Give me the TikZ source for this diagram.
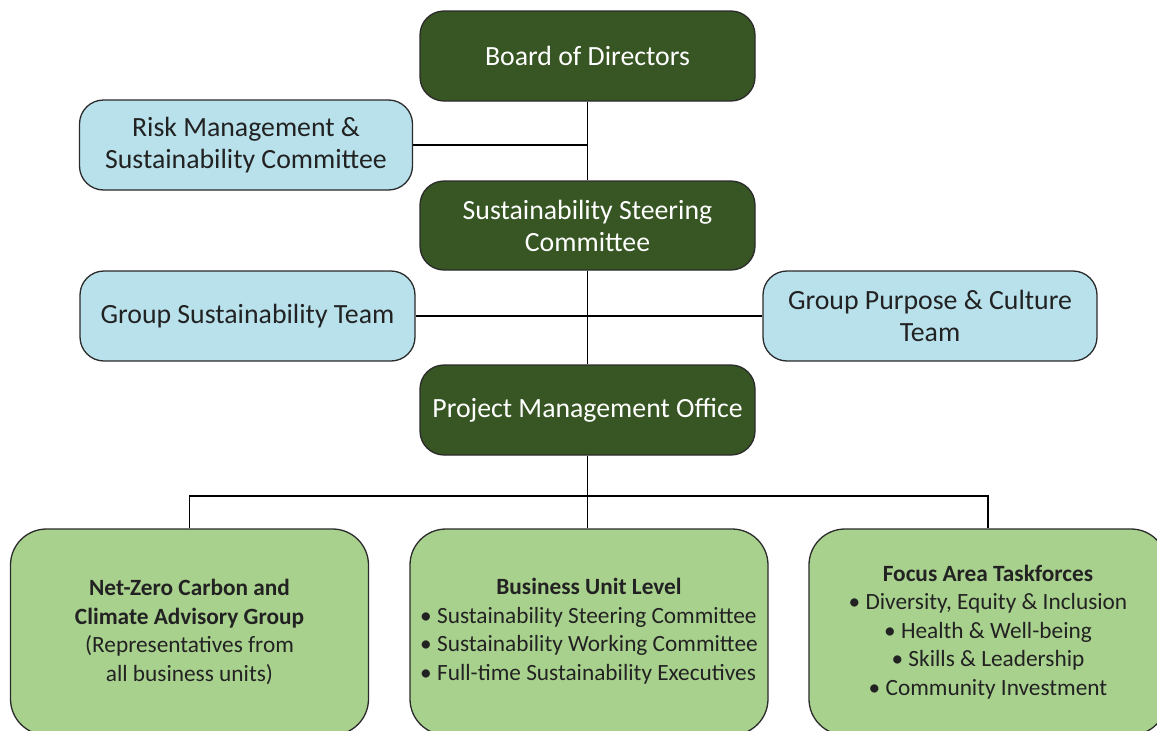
\documentclass[tikz,border=0pt]{standalone}
\usepackage{fontspec}
\setmainfont{Carlito}
\definecolor{darkg}{HTML}{375623}
\definecolor{lightb}{HTML}{B8E1EC}
\definecolor{lightg}{HTML}{A9D18E}
\definecolor{edgec}{HTML}{2B2B2B}
\definecolor{txt}{HTML}{222222}
\tikzset{
  topbox/.style={draw=edgec, line width=1.3pt, rounded corners=24pt, align=center, inner sep=0pt,
     font=\fontsize{27.8}{32}\selectfont},
  darkbox/.style={topbox, fill=darkg, text=white, minimum width=335pt, minimum height=90pt},
  bluebox/.style={topbox, fill=lightb, text=txt, minimum height=90pt},
  greenbox/.style={draw=edgec, line width=1.3pt, rounded corners=36pt, fill=lightg, text=txt,
     minimum width=358pt, minimum height=206pt, inner sep=0pt, align=center,
     font=\fontsize{23.3}{28.5}\selectfont},
  conn/.style={draw=black, line width=1.5pt}
}
\begin{document}
\begin{tikzpicture}[x=1pt,y=-1pt]
\useasboundingbox[fill=white] (0,0) rectangle (1157,731);
\node[darkbox] (board) at (587.5,56) {Board of Directors};
\node[bluebox, minimum width=333pt] (risk) at (246,145) {Risk Management \&\\Sustainability Committee};
\node[darkbox, minimum height=89pt] (ssc) at (587.5,225.5) {Sustainability Steering\\Committee};
\node[bluebox, minimum width=335pt] (gst) at (247.5,316) {Group Sustainability Team};
\node[bluebox, minimum width=334pt] (gpc) at (930,316) {Group Purpose \& Culture\\Team};
\node[darkbox] (pmo) at (587.5,410) {Project Management Office};
\node[greenbox] (net) at (189.5,632) {\textbf{Net-Zero Carbon and}\\\textbf{Climate Advisory Group}\\(Representatives from\\all business units)};
\node[greenbox] (bul) at (589,632) {\begin{tabular}{@{}l@{}}\multicolumn{1}{c}{\textbf{Business Unit Level}}\\
 • Sustainability Steering Committee\\
 • Sustainability Working Committee\\
 • Full-time Sustainability Executives\end{tabular}};
\node[greenbox] (far) at (988,632) {\textbf{Focus Area Taskforces}\\• Diversity, Equity \& Inclusion\\• Health \& Well-being\\• Skills \& Leadership\\• Community Investment};
\coordinate (bus) at (588,496);
\draw[conn] (board.south) -- (ssc.north);
\draw[conn] (risk.east) -- (risk.east -| board.south);
\draw[conn] (ssc.south) -- (pmo.north);
\draw[conn] (gst.east) -- (gpc.west);
\draw[conn] (pmo.south) -- (pmo.south |- bul.north);
\draw[conn] (net.north) |- (bus) -| (far.north);
\end{tikzpicture}
\end{document}
